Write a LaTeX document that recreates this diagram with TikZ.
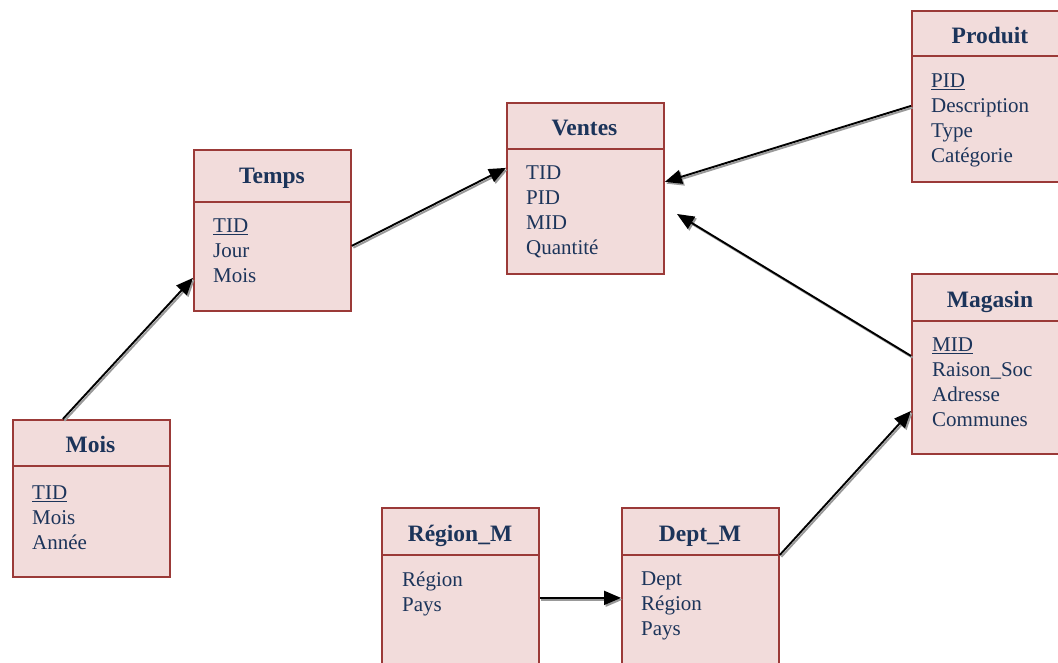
\documentclass[tikz,border=0pt]{standalone}
\usepackage{fontspec}
\setmainfont{Liberation Serif}
\usetikzlibrary{arrows.meta}
\definecolor{boxfill}{RGB}{242,220,219}
\definecolor{boxdraw}{RGB}{155,58,56}
\definecolor{txt}{RGB}{28,52,90}
\tikzset{
  entity/.style={draw=boxdraw, fill=boxfill, line width=1.8pt, anchor=north west, inner sep=0pt, minimum width=157pt},
  sep/.style={draw=boxdraw, line width=1.6pt},
  ttl/.style={text=txt, font=\fontsize{23.5}{28}\bfseries\selectfont, anchor=base, inner sep=0pt},
  attrs/.style={text=txt, font=\fontsize{21}{24.9}\selectfont, align=left, anchor=north west, inner sep=0pt},
  link/.style={line width=1.9pt, -{Triangle[length=17pt,width=14pt]}},
  linkshadow/.style={line width=1.9pt, draw=black!40, -{Triangle[length=17pt,width=14pt,fill=black!40]}, transform canvas={xshift=1.6pt,yshift=-1.8pt}},
}
% a link with its grey shadow
\newcommand\erlink[2]{%
  \draw[linkshadow] (#1) -- (#2);
  \draw[link] (#1) -- (#2);}
\begin{document}
\begin{tikzpicture}[x=1pt,y=-1pt]
\useasboundingbox (0,0) rectangle (1058,663);
\clip (0,0) rectangle (1058,663);
\fill[white] (0,0) rectangle (1058,663);

% entity boxes
\node[entity, minimum height=157pt] (mois) at (12,419) {};
\node[entity, minimum height=161pt] (temps) at (193,149) {};
\node[entity, minimum height=171pt] (ventes) at (506,102) {};
\node[entity, minimum height=171pt] (produit) at (911,10) {};
\node[entity, minimum height=180pt] (magasin) at (911,273) {};
\node[entity, minimum height=173pt] (region) at (381,507) {};
\node[entity, minimum height=173pt] (dept) at (621,507) {};

% header separators
\draw[sep] (mois.west |- 0,466) -- (mois.east |- 0,466);
\draw[sep] (temps.west |- 0,202) -- (temps.east |- 0,202);
\draw[sep] (ventes.west |- 0,149) -- (ventes.east |- 0,149);
\draw[sep] (produit.west |- 0,56) -- (produit.east |- 0,56);
\draw[sep] (magasin.west |- 0,321) -- (magasin.east |- 0,321);
\draw[sep] (region.west |- 0,555) -- (region.east |- 0,555);
\draw[sep] (dept.west |- 0,555) -- (dept.east |- 0,555);

% titles
\node[ttl] (moisT) at (90.5,452.5) {Mois};
\node[ttl] (tempsT) at (272,184) {Temps};
\node[ttl] (ventesT) at (584.5,135.5) {Ventes};
\node[ttl] (produitT) at (990,43.5) {Produit};
\node[ttl] (magasinT) at (990,307.5) {Magasin};
\node[ttl] (regionT) at (460,541.5) {Région\_M};
\node[ttl] (deptT) at (700,541.5) {Dept\_M};

% attributes
\node[attrs] (moisA) at (32,485.5) {\underline{TID}\\Mois\\Année};
\node[attrs] (tempsA) at (213,219) {\underline{TID}\\Jour\\Mois};
\node[attrs] (ventesA) at (526,166) {TID\\PID\\MID\\Quantité};
\node[attrs] (produitA) at (931,73.5) {\underline{PID}\\Description\\Type\\Catégorie};
\node[attrs] (magasinA) at (932,337.5) {\underline{MID}\\Raison\_Soc\\Adresse\\Communes};
\node[attrs] (regionA) at (402,572) {Région\\Pays};
\node[attrs] (deptA) at (641,572) {Dept\\Région\\Pays};

% link end points on the box sides
\coordinate (moisOut) at ([xshift=-28.5pt]mois.north);
\coordinate (tempsIn) at ([yshift=-47.5pt]temps.west);
\coordinate (tempsOut) at ([yshift=-15.5pt]temps.east);
\coordinate (ventesInL) at ([yshift=20.5pt]ventes.west);
\coordinate (produitOut) at ([yshift=-9.5pt]produit.west);
\coordinate (ventesInR) at ([yshift=6.5pt]ventes.east);
\coordinate (magasinOut) at ([yshift=8pt]magasin.west);
\coordinate (ventesPort) at (677,214);
\coordinate (regionOut) at ([yshift=-3.5pt]region.east);
\coordinate (deptIn) at ([yshift=-3.5pt]dept.west);
\coordinate (deptOut) at ([yshift=-48pt]dept.north east);
\coordinate (magasinIn) at ([yshift=-47pt]magasin.west);

% links
\erlink{moisOut}{tempsIn}
\erlink{tempsOut}{ventesInL}
\erlink{produitOut}{ventesInR}
\erlink{magasinOut}{ventesPort}
\erlink{regionOut}{deptIn}
\erlink{deptOut}{magasinIn}
\end{tikzpicture}
\end{document}
